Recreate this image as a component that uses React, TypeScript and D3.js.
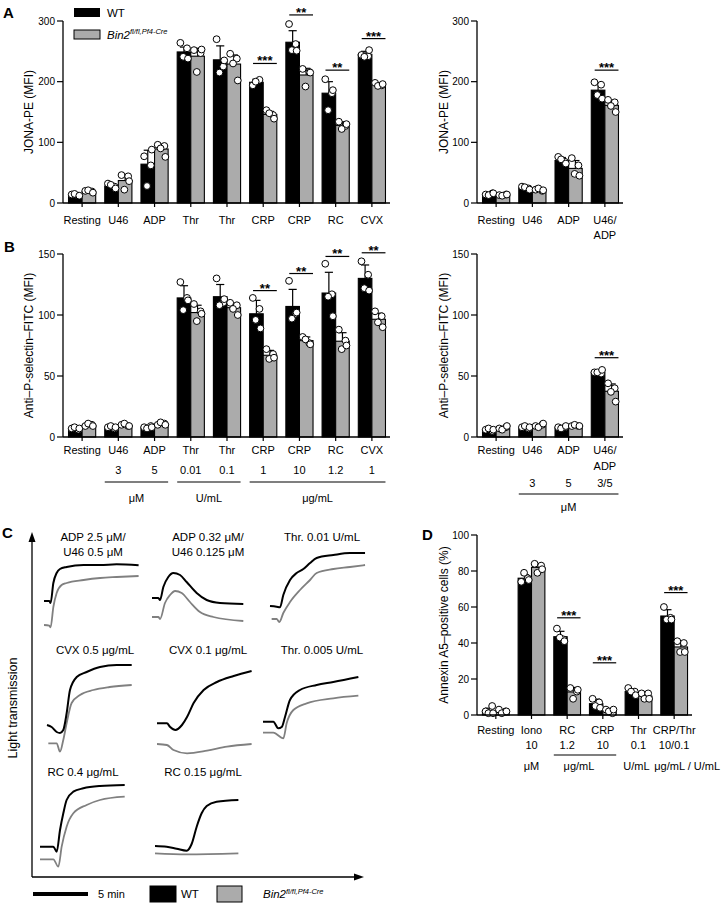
import React from "react";
import * as d3 from "d3";

const FONT = "'Liberation Sans', Arial, Helvetica, sans-serif";
const GRAY_BAR = "#ababab";
const GRAY_LINE = "#808080";

// ---------------- Panel A (left) ----------------
const A_CATS = ["Resting", "U46", "ADP", "Thr", "Thr", "CRP", "CRP", "RC", "CVX"];
const A_WT = [13, 28, 64, 249, 236, 199, 265, 181, 245];
const A_KO = [19, 37, 89, 242, 229, 146, 211, 128, 195];
const A_WT_SD = [2, 4, 23, 8, 23, 5, 19, 19, 5];
const A_KO_SD = [2, 8, 8, 13, 15, 5, 11, 6, 3];
const A_WT_PTS = [[14, 12, 15, 12], [32, 27, 30, 24], [77, 62, 28, 88], [264, 255, 241, 238], [270, 225, 215, 235], [194, 203, 200], [295, 262, 252, 251], [204, 181, 153, 186], [244, 242, 241, 252]];
const A_KO_PTS = [[20, 19, 21, 17], [46, 44, 22, 36], [96, 94, 90, 76], [252, 247, 216, 253], [246, 238, 230, 202], [153, 145, 148, 139], [221, 216, 192, 215], [134, 127, 122, 130], [198, 194, 193, 196]];
const A_SIG = [{ i: 5, y: 230, label: "***" }, { i: 6, y: 310, label: "**" }, { i: 7, y: 219, label: "**" }, { i: 8, y: 271, label: "***" }];
const A_TICKS = [0, 100, 200, 300];

// ---------------- Panel A (right) ----------------
const AR_CATS = ["Resting", "U46", "ADP", "U46/\nADP"];
const AR_WT = [15, 25, 70, 186];
const AR_KO = [13, 22, 57, 161];
const AR_WT_SD = [1, 2, 5, 12];
const AR_KO_SD = [1, 2, 13, 8];
const AR_WT_PTS = [[14, 16, 13, 16], [27, 24, 26, 22], [76, 68, 72, 65], [199, 195, 178, 172]];
const AR_KO_PTS = [[13, 14, 12, 14], [22, 20, 24, 21], [74, 62, 48, 45], [170, 166, 160, 150]];
const AR_SIG = [{ i: 3, y: 219, label: "***" }];

// ---------------- Panel B (left) ----------------
const B_CATS = ["Resting", "U46", "ADP", "Thr", "Thr", "CRP", "CRP", "RC", "CVX"];
const B_NUMS = ["", "3", "5", "0.01", "0.1", "1", "10", "1.2", "1"];
const B_UNITS = [{ from: 1, to: 2, label: "μM", line: true }, { from: 3, to: 4, label: "U/mL", line: true }, { from: 5, to: 8, label: "μg/mL", line: true }];
const B_WT = [7, 8, 8, 114, 115, 101, 107, 118, 130];
const B_KO = [9.5, 9.5, 10.5, 102, 106, 67, 79, 78.5, 96.5];
const B_WT_SD = [1, 1, 1, 10, 10, 11, 14, 17, 11];
const B_KO_SD = [1, 1, 1, 6, 3, 4, 3, 7, 5];
const B_WT_PTS = [[7, 6, 8, 7], [8, 7, 9, 8], [8, 9, 7, 8], [127, 114, 104, 112], [130, 110, 108, 113], [114, 105, 96, 89], [128, 101, 97, 102], [142, 117, 115, 99], [144, 133, 122, 120]];
const B_KO_PTS = [[9, 10, 11, 9], [10, 9, 11, 9], [10, 11, 12, 10], [109, 103, 95, 101], [110, 108, 105, 100], [72, 68, 64, 65], [82, 77, 80, 76], [88, 79, 72, 75], [103, 99, 94, 90]];
const B_SIG = [{ i: 5, y: 120, label: "**" }, { i: 6, y: 134, label: "**" }, { i: 7, y: 148, label: "**" }, { i: 8, y: 151, label: "**" }];
const B_TICKS = [0, 50, 100, 150];

// ---------------- Panel B (right) ----------------
const BR_CATS = ["Resting", "U46", "ADP", "U46/\nADP"];
const BR_NUMS = ["", "3", "5", "3/5"];
const BR_UNITS = [{ from: 1, to: 3, label: "μM", line: true }];
const BR_WT = [6, 8, 8, 53];
const BR_KO = [7, 9, 9, 37.5];
const BR_WT_SD = [1, 1, 1, 1.5];
const BR_KO_SD = [1, 1, 1, 6];
const BR_WT_PTS = [[6, 5, 7, 6], [8, 7, 9, 8], [8, 8, 7, 9], [53, 52, 53, 55]];
const BR_KO_PTS = [[7, 8, 6, 9], [9, 10, 8, 11], [9, 9, 10, 9], [44, 40, 37, 29]];
const BR_SIG = [{ i: 3, y: 65, label: "***" }];

// ---------------- Panel D ----------------
const D_CATS = ["Resting", "Iono", "RC", "CRP", "Thr", "CRP/Thr"];
const D_NUMS = ["", "10", "1.2", "10", "0.1", "10/0.1"];
const D_UNITS = [{ from: 1, to: 1, label: "μM", line: false }, { from: 2, to: 3, label: "μg/mL", line: true, dx: -6 }, { from: 4, to: 4, label: "U/mL", line: false, dx: -2 }, { from: 5, to: 5, label: "μg/mL / U/mL", line: false, dx: 13 }];
const D_WT = [2.3, 76, 43.5, 6.3, 13, 55];
const D_KO = [2, 82, 12.8, 2.3, 10.5, 37.8];
const D_WT_SD = [1.5, 2, 3, 2.5, 1.5, 3.5];
const D_KO_SD = [1, 2, 2.5, 1, 1.5, 3];
const D_WT_PTS = [[2, 5, 1, 1], [74, 76, 79, 75], [48, 42, 43, 41], [9, 7, 5, 4], [15, 13, 13, 11], [60, 54, 53, 53]];
const D_KO_PTS = [[3, 2, 1, 2], [84, 83, 79, 81], [15, 13, 9, 14], [3, 1, 2, 3], [12, 12, 9, 9], [41, 40, 35, 35]];
const D_SIG = [{ i: 2, y: 54, label: "***" }, { i: 3, y: 29, label: "***" }, { i: 5, y: 68, label: "***" }];
const D_TICKS = [0, 20, 40, 60, 80, 100];

// ---------------- Panel C traces: [time (min), transmission units] ----------------
const C1_WT = [[0, 31], [0.48, 31], [0.6, 29], [0.85, 49], [1.15, 59], [1.45, 63], [2.06, 65], [3.6, 67], [5.1, 67], [6.6, 67.7], [8.6, 66.7]];
const C1_KO = [[0, 7], [0.48, 6.3], [0.6, 4.7], [0.85, 25], [1.15, 39], [1.6, 47], [2.06, 49], [3.6, 52], [5.1, 54], [6.6, 55], [8.6, 56]];
const C2_WT = [[0, 34], [0.58, 34], [0.73, 32], [1.03, 45], [1.48, 55], [1.94, 59], [2.55, 57], [3.15, 50], [4.06, 39], [4.97, 32], [6.18, 29], [8.3, 28]];
const C2_KO = [[0, 15], [0.58, 15], [0.73, 13], [1.18, 29], [1.64, 37], [2.1, 41], [2.7, 39], [3.45, 30], [4.36, 20], [5.58, 15], [8.3, 11]];
const C3_WT = [[0, 26], [0.6, 25.3], [0.91, 24.7], [1.21, 37], [1.82, 52], [2.42, 59], [3.03, 63], [3.64, 69], [4.24, 74], [5.76, 77], [7.27, 79], [8.64, 79]];
const C3_KO = [[0.15, 13], [0.6, 13], [0.85, 10], [1.21, 19], [1.82, 30], [2.73, 42], [3.64, 52], [4.24, 59], [5.76, 63], [7.27, 65], [8.64, 67]];
const C4_WT = [[0, 31], [0.42, 29], [0.88, 24], [1.18, 23], [1.48, 26], [1.79, 43], [2.09, 66], [2.7, 79], [3.6, 84], [4.82, 89], [6.33, 91], [7.7, 91]];
const C4_KO = [[0.12, 12.7], [0.88, 12.7], [1.18, 4.3], [1.48, 16], [1.79, 33], [2.24, 53], [3, 61], [4.21, 66], [5.7, 69], [7.7, 71]];
const C5_WT = [[0, 32.7], [0.9, 32.7], [1.2, 29], [1.67, 26], [2.27, 31], [2.73, 39], [3.33, 53], [4.24, 66], [5.45, 74], [6.97, 80], [8.6, 85]];
const C5_KO = [[0, 12], [0.9, 11], [1.5, 6], [2.73, 2.7], [4.55, 5.3], [6.36, 9.3], [8.6, 12]];
const C6_WT = [[0, 34.3], [0.94, 34.3], [1.39, 27.7], [1.7, 29], [2, 39], [2.45, 56], [3.36, 66], [4.88, 71], [6.39, 74], [8.67, 79]];
const C6_KO = [[0, 23.3], [0.94, 23.3], [1.85, 17.7], [2.15, 32.7], [2.76, 46], [3.97, 52.7], [6.39, 57.7], [8.67, 60.3]];
const C7_WT = [[0, 23.3], [1.21, 23.3], [1.52, 18.3], [1.82, 40], [2.12, 56.7], [2.42, 70], [3.03, 78.3], [3.94, 81.7], [5.45, 84], [7.7, 85]];
const C7_KO = [[0, 10.7], [1.21, 10.7], [1.67, 3.3], [1.97, 23.3], [2.42, 43.3], [3.03, 56.7], [4.24, 65], [5.45, 70], [7.7, 73.3]];
const C8_WT = [[0, 24], [1.06, 23.3], [1.97, 21.3], [2.88, 19.3], [3.33, 26], [3.79, 43.3], [4.24, 56.7], [4.7, 64], [5.6, 68.3], [7.58, 70]];
const C8_KO = [[0, 16.7], [2.88, 15.7], [7.58, 16.7]];

const C_TITLES = [["ADP 2.5 μM/", "U46 0.5 μM"], ["ADP 0.32 μM/", "U46 0.125 μM"], ["Thr. 0.01 U/mL"], ["CVX 0.5 μg/mL"], ["CVX 0.1 μg/mL"], ["Thr. 0.005 U/mL"], ["RC 0.4 μg/mL"], ["RC 0.15 μg/mL"]];
const C_WT = [C1_WT, C2_WT, C3_WT, C4_WT, C5_WT, C6_WT, C7_WT, C8_WT];
const C_KO = [C1_KO, C2_KO, C3_KO, C4_KO, C5_KO, C6_KO, C7_KO, C8_KO];
const SCALE_BAR_MIN = 5;

// layout for panel C sub-plots (positions only)
const C_LAYOUT = [
  { x0: 44, bottom: 632, tx: 93, ty: 541 },
  { x0: 152, bottom: 632, tx: 208, ty: 541 },
  { x0: 270, bottom: 632, tx: 322, ty: 541 },
  { x0: 47, bottom: 756, tx: 95, ty: 654 },
  { x0: 157, bottom: 756, tx: 208, ty: 654 },
  { x0: 263, bottom: 756, tx: 322, ty: 654 },
  { x0: 40, bottom: 870, tx: 83, ty: 776 },
  { x0: 155, bottom: 870, tx: 203, ty: 776 },
];

const JIT = [-0.38, 0.32, -0.08, 0.42, 0.12];

type Sig = { i: number; y: number; label: string };
type Unit = { from: number; to: number; label: string; line: boolean; dx?: number };

interface BarPanelProps {
  cats: string[];
  wt: number[]; ko: number[]; wtSd: number[]; koSd: number[];
  wtPts: number[][]; koPts: number[][];
  xRange: [number, number];
  yDomain: [number, number]; yRange: [number, number];
  ticks: number[];
  yTitle: string; titleX: number;
  sig: Sig[];
  labelY: number; lineH: number;
  nums?: string[]; numY?: number;
  units?: Unit[]; unitLineY?: number; unitY?: number;
}

function BarPanel(p: BarPanelProps) {
  const n = p.cats.length;
  const x = d3.scaleBand<number>().domain(d3.range(n)).range(p.xRange).paddingInner(0.25).paddingOuter(0.125);
  const y = d3.scaleLinear().domain(p.yDomain).range(p.yRange);
  const bw = x.bandwidth() / 2;
  const axisX = p.xRange[0] - 1;
  const y0 = y(0);
  const series = [
    { vals: p.wt, sd: p.wtSd, pts: p.wtPts, fill: "#000", off: 0 },
    { vals: p.ko, sd: p.koSd, pts: p.koPts, fill: GRAY_BAR, off: 1 },
  ];
  const center = (i: number) => x(i)! + x.bandwidth() / 2;
  const mid = (p.yRange[0] + p.yRange[1]) / 2;
  return (
    <g fontFamily={FONT}>
      {series.map((s, si) => s.vals.map((v, i) => (
        <rect key={`b${si}-${i}`} x={x(i)! + s.off * bw} y={y(v)} width={bw} height={y0 - y(v)} fill={s.fill} stroke="#000" strokeWidth={1.1} />
      )))}
      {series.map((s, si) => s.vals.map((v, i) => {
        const cx = x(i)! + s.off * bw + bw / 2;
        const top = y(v + s.sd[i]);
        return (
          <g key={`e${si}-${i}`} stroke="#000" strokeWidth={1.2}>
            <line x1={cx} x2={cx} y1={y(v)} y2={top} />
            <line x1={cx - bw * 0.3} x2={cx + bw * 0.3} y1={top} y2={top} />
          </g>
        );
      }))}
      {series.map((s, si) => s.pts.map((arr, i) => arr.map((pv, j) => {
        const cx = x(i)! + s.off * bw + bw / 2;
        return <circle key={`p${si}-${i}-${j}`} cx={cx + JIT[j % JIT.length] * bw * 0.7} cy={y(pv)} r={3.4} fill="#fff" stroke="#000" strokeWidth={1} />;
      })))}
      <line x1={axisX} x2={axisX} y1={y0} y2={y(p.yDomain[1])} stroke="#000" strokeWidth={1.3} />
      <line x1={axisX} x2={p.xRange[1]} y1={y0} y2={y0} stroke="#000" strokeWidth={1.3} />
      {p.ticks.map((t) => (
        <g key={`t${t}`}>
          <line x1={axisX - 6} x2={axisX} y1={y(t)} y2={y(t)} stroke="#000" strokeWidth={1.2} />
          <text x={axisX - 8} y={y(t) + 3.5} textAnchor="end" fontSize={10}>{t}</text>
        </g>
      ))}
      {p.cats.map((c, i) => (
        <g key={`c${i}`}>
          <line x1={center(i)} x2={center(i)} y1={y0} y2={y0 + 4} stroke="#000" strokeWidth={1.2} />
          {c.split("\n").map((ln, k) => (
            <text key={k} x={center(i)} y={p.labelY + k * p.lineH} textAnchor="middle" fontSize={11}>{ln}</text>
          ))}
        </g>
      ))}
      {p.nums && p.nums.map((t, i) => (
        <text key={`n${i}`} x={center(i)} y={p.numY} textAnchor="middle" fontSize={11}>{t}</text>
      ))}
      {p.units && p.units.map((u, k) => (
        <g key={`u${k}`}>
          {u.line && <line x1={x(u.from)!} x2={x(u.to)! + x.bandwidth()} y1={p.unitLineY} y2={p.unitLineY} stroke="#000" strokeWidth={1.2} />}
          <text x={(center(u.from) + center(u.to)) / 2 + (u.dx || 0)} y={p.unitY} textAnchor="middle" fontSize={11}>{u.label}</text>
        </g>
      ))}
      {p.sig.map((s, k) => {
        const x1 = x(s.i)! + bw * 0.25;
        const x2 = x(s.i)! + 2 * bw;
        return (
          <g key={`s${k}`}>
            <line x1={x1} x2={x2} y1={y(s.y)} y2={y(s.y)} stroke="#000" strokeWidth={1.2} />
            <text x={(x1 + x2) / 2} y={y(s.y) + 2} textAnchor="middle" fontSize={13} fontWeight="bold">{s.label}</text>
          </g>
        );
      })}
      <text transform={`translate(${p.titleX},${mid}) rotate(-90)`} textAnchor="middle" fontSize={12}>{p.yTitle}</text>
    </g>
  );
}

function GenoLabel({ x, y }: { x: number; y: number }) {
  return (
    <text x={x} y={y} fontSize={11.5} fontStyle="italic" fontFamily={FONT}>
      Bin2<tspan fontSize={7.5} dy={-4.5}>fl/fl,Pf4-Cre</tspan>
    </text>
  );
}

function PanelC() {
  const line = d3.line<number[]>().curve(d3.curveMonotoneX);
  const xs0 = d3.scaleLinear().domain([0, 10]).range([0, 110]);
  return (
    <g fontFamily={FONT}>
      {C_LAYOUT.map((L, k) => {
        const xs = d3.scaleLinear().domain([0, 10]).range([L.x0, L.x0 + 110]);
        const ys = d3.scaleLinear().domain([0, 100]).range([L.bottom, L.bottom - 100]);
        const gen = line.x((d) => xs(d[0])).y((d) => ys(d[1]));
        return (
          <g key={k}>
            <path d={gen(C_KO[k]) || ""} fill="none" stroke={GRAY_LINE} strokeWidth={1.8} />
            <path d={gen(C_WT[k]) || ""} fill="none" stroke="#000" strokeWidth={2} />
            {C_TITLES[k].map((t, j) => (
              <text key={j} x={L.tx} y={L.ty + j * 14.5} textAnchor="middle" fontSize={11.5}>{t}</text>
            ))}
          </g>
        );
      })}
      <line x1={32} x2={32} y1={877} y2={540} stroke="#000" strokeWidth={1.3} />
      <path d="M28.5,542 L32,532 L35.5,542 Z" fill="#000" />
      <line x1={32} x2={356} y1={877} y2={877} stroke="#000" strokeWidth={1.3} />
      <path d="M354,873.5 L364,877 L354,880.5 Z" fill="#000" />
      <text transform="translate(17,708) rotate(-90)" textAnchor="middle" fontSize={12.5}>Light transmission</text>
      <line x1={33} x2={33 + xs0(SCALE_BAR_MIN)} y1={894} y2={894} stroke="#000" strokeWidth={4} />
      <text x={98} y={898} fontSize={11}>{`${SCALE_BAR_MIN} min`}</text>
      <rect x={150} y={886} width={26} height={16} fill="#000" stroke="#000" strokeWidth={1} />
      <text x={181} y={898} fontSize={11.5}>WT</text>
      <rect x={217} y={886} width={25} height={16} fill={GRAY_BAR} stroke="#000" strokeWidth={1} />
      <GenoLabel x={263} y={898} />
    </g>
  );
}

export default function App() {
  return (
    <svg width={723} height={917} viewBox="0 0 723 917" style={{ position: "absolute", left: 0, top: 0, background: "#fff" }}>
      <rect x={0} y={0} width={723} height={917} fill="#fff" />
      <g fontFamily={FONT} fontWeight="bold" fontSize={15}>
        <text x={3} y={18}>A</text>
        <text x={4} y={252}>B</text>
        <text x={2} y={538}>C</text>
        <text x={422} y={540}>D</text>
      </g>
      <rect x={74} y={8} width={26} height={9} fill="#000" />
      <text x={107} y={16.5} fontSize={11.5} fontFamily={FONT}>WT</text>
      <rect x={74} y={30} width={26} height={9} fill={GRAY_BAR} stroke="#000" strokeWidth={1} />
      <GenoLabel x={107} y={38.5} />

      <BarPanel cats={A_CATS} wt={A_WT} ko={A_KO} wtSd={A_WT_SD} koSd={A_KO_SD} wtPts={A_WT_PTS} koPts={A_KO_PTS}
        xRange={[64, 390]} yDomain={[0, 300]} yRange={[203, 21]} ticks={A_TICKS} yTitle="JONA-PE (MFI)" titleX={33}
        sig={A_SIG} labelY={224} lineH={15} />
      <BarPanel cats={AR_CATS} wt={AR_WT} ko={AR_KO} wtSd={AR_WT_SD} koSd={AR_KO_SD} wtPts={AR_WT_PTS} koPts={AR_KO_PTS}
        xRange={[478, 623]} yDomain={[0, 300]} yRange={[203, 21]} ticks={A_TICKS} yTitle="JONA-PE (MFI)" titleX={448}
        sig={AR_SIG} labelY={224} lineH={15} />
      <BarPanel cats={B_CATS} wt={B_WT} ko={B_KO} wtSd={B_WT_SD} koSd={B_KO_SD} wtPts={B_WT_PTS} koPts={B_KO_PTS}
        xRange={[64, 390]} yDomain={[0, 150]} yRange={[437, 254]} ticks={B_TICKS} yTitle="Anti–P-selectin–FITC (MFI)" titleX={33}
        sig={B_SIG} labelY={454} lineH={16} nums={B_NUMS} numY={474} units={B_UNITS} unitLineY={482} unitY={502} />
      <BarPanel cats={BR_CATS} wt={BR_WT} ko={BR_KO} wtSd={BR_WT_SD} koSd={BR_KO_SD} wtPts={BR_WT_PTS} koPts={BR_KO_PTS}
        xRange={[478, 623]} yDomain={[0, 150]} yRange={[437, 254]} ticks={B_TICKS} yTitle="Anti–P-selectin–FITC (MFI)" titleX={448}
        sig={BR_SIG} labelY={454} lineH={16} nums={BR_NUMS} numY={487} units={BR_UNITS} unitLineY={494} unitY={511} />
      <BarPanel cats={D_CATS} wt={D_WT} ko={D_KO} wtSd={D_WT_SD} koSd={D_KO_SD} wtPts={D_WT_PTS} koPts={D_KO_PTS}
        xRange={[478, 692]} yDomain={[0, 100]} yRange={[715, 535]} ticks={D_TICKS} yTitle="Annexin A5–positive cells (%)" titleX={448}
        sig={D_SIG} labelY={734} lineH={15} nums={D_NUMS} numY={749} units={D_UNITS} unitLineY={755} unitY={770} />
      <PanelC />
    </svg>
  );
}
